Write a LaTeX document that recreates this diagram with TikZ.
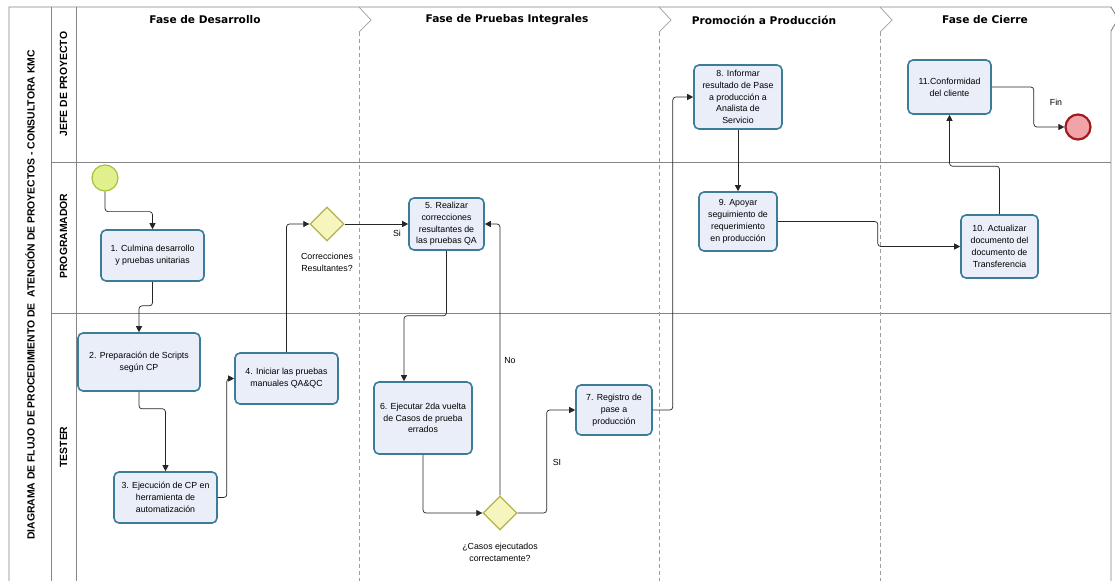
\documentclass[tikz,border=0pt]{standalone}
\usepackage{fontspec}
\setmainfont{Liberation Sans}
\newfontfamily\headfont{DejaVu Sans}
\usetikzlibrary{arrows.meta,shapes.geometric}
\definecolor{boxfill}{HTML}{E9EEF8}
\definecolor{boxborder}{HTML}{3C7C99}
\definecolor{gwfill}{HTML}{F7F5BE}
\definecolor{gwborder}{HTML}{B3B34E}
\definecolor{stfill}{HTML}{E0F08C}
\definecolor{stborder}{HTML}{A4C23C}
\definecolor{enfill}{HTML}{F0A4A8}
\definecolor{enborder}{HTML}{A31A1E}
\definecolor{framec}{HTML}{858585}
\tikzset{
  task/.style={draw=boxborder, line width=1.6pt, fill=boxfill, rounded corners=5pt,
    align=center, inner sep=1pt, font=\fontsize{8.8}{11.8}\selectfont},
  gateway/.style={diamond, draw=gwborder, line width=1.3pt, fill=gwfill,
    minimum width=34pt, minimum height=34pt, inner sep=0pt, aspect=1},
  startev/.style={circle, draw=stborder, line width=1.2pt, fill=stfill, minimum size=26pt, inner sep=0pt},
  endev/.style={circle, draw=enborder, line width=2.2pt, fill=enfill, minimum size=25pt, inner sep=0pt},
  flow/.style={draw=black!85, line width=0.7pt, rounded corners=3pt, -{Triangle[length=6pt,width=6pt]}},
  lbl/.style={align=center, font=\fontsize{8.8}{11.8}\selectfont, inner sep=0pt},
  frameline/.style={draw=framec, line width=0.9pt},
  phasesep/.style={draw=framec!80, line width=0.7pt, dash pattern=on 4pt off 3pt},
  chev/.style={draw=framec!80, line width=0.7pt},
  phasehead/.style={font=\headfont\fontsize{10.6}{13}\selectfont\bfseries, inner sep=0pt},
  lanehead/.style={font=\fontsize{10.4}{12}\selectfont\bfseries, inner sep=0pt, rotate=90},
}
\begin{document}
\begin{tikzpicture}[x=1pt,y=-1pt]
\useasboundingbox (0,0) rectangle (1115,581);
\fill[white] (0,0) rectangle (1115,581);
% frame
\draw[frameline] (9,581) -- (9,7) -- (1111,7) -- (1118,19) -- (1111,31) -- (1111,581);
\draw[frameline] (51,7) -- (51,581);
\draw[frameline] (76,7) -- (76,581);
\draw[frameline] (51,162) -- (1111,162);
\draw[frameline] (51,313) -- (1111,313);
% phase separators
\foreach \px in {359,659,880}{
  \draw[chev] (\px,7) -- (\px+12,20) -- (\px,32);
  \draw[phasesep] (\px,32) -- (\px,581);
}
% headers
\node[phasehead] (h1) at (205,20) {Fase de Desarrollo};
\node[phasehead] (h2) at (507,20) {Fase de Pruebas Integrales};
\node[phasehead] (h3) at (764,20) {Promoción a Producción};
\node[phasehead] (h4) at (985,20) {Fase de Cierre};
% pool and lanes
\node[lanehead] (pool) at (30,295) {DIAGRAMA DE FLUJO DE PROCEDIMIENTO DE\ \ ATENCIÓN DE PROYECTOS - CONSULTORA KMC};
\node[lanehead] (l1) at (63.5,84) {JEFE DE PROYECTO};
\node[lanehead] (l2) at (63.5,236) {PROGRAMADOR};
\node[lanehead] (l3) at (63.5,447) {TESTER};
% events and gateways
\node[startev] (start) at (105,178) {};
\node[endev] (end) at (1078,127) {};
\node[gateway] (d1) at (327,224) {};
\node[gateway] (d2) at (500,513) {};
% tasks
\node[task, minimum width=103pt, minimum height=51pt] (t1) at (152.5,255.5) {1. Culmina desarrollo\\y pruebas unitarias};
\node[task, minimum width=122pt, minimum height=58pt] (t2) at (139,362) {2. Preparación de Scripts\\según CP};
\node[task, minimum width=103pt, minimum height=51pt] (t3) at (165.5,497.5) {3. Ejecución de CP en\\herramienta de\\automatización};
\node[task, minimum width=103pt, minimum height=51pt] (t4) at (286.5,378.5) {4. Iniciar las pruebas\\manuales QA\&QC};
\node[task, minimum width=75pt, minimum height=52pt] (t5) at (446.5,224) {5. Realizar\\correcciones\\resultantes de\\las pruebas QA};
\node[task, minimum width=98pt, minimum height=72pt] (t6) at (423,418) {6. Ejecutar 2da vuelta\\de Casos de prueba\\errados};
\node[task, minimum width=76pt, minimum height=50pt] (t7) at (614,410) {7. Registro de\\pase a\\producción};
\node[task, minimum width=88pt, minimum height=64pt] (t8) at (738,97) {8. Informar\\resultado de Pase\\a producción a\\Analista de\\Servicio};
\node[task, minimum width=78pt, minimum height=59pt] (t9) at (738,221.5) {9. Apoyar\\seguimiento de\\requerimiento\\en producción};
\node[task, minimum width=77pt, minimum height=63pt] (t10) at (999.5,246.5) {10. Actualizar\\documento del\\documento de\\Transferencia};
\node[task, minimum width=83pt, minimum height=54pt] (t11) at (949.5,87) {11.Conformidad\\del cliente};
% labels
\node[lbl] (lg1) at (327,262) {Correcciones\\Resultantes?};
\node[lbl] (lg2) at (500,552) {¿Casos ejecutados\\correctamente?};
\node[lbl] (lsi1) at (397,233) {Si};
\node[lbl] (lno) at (510,361) {No};
\node[lbl] (lsi2) at (557,462) {SI};
\node[lbl] (lfin) at (1056,102) {Fin};
% flows
\draw[flow] (start.south) -- ++(0,20) -| (t1.north);
\draw[flow] (t1.south) -- ++(0,24) -| (t2.north);
\draw[flow] (t2.south) -- ++(0,17) -| (t3.north);
\draw[flow] (t3.east) -- ++(9,0) |- (t4.west);
\draw[flow] (t4.north) |- (d1.west);
\draw[flow] (d1.east) -- (t5.west);
\draw[flow] (t5.south) -- ++(0,65) -| ([xshift=-19pt]t6.north);
\draw[flow] (t6.south) |- (d2.west);
\draw[flow] (d2.north) |- (t5.east);
\draw[flow] (d2.east) -- ++(29,0) |- (t7.west);
\draw[flow] (t7.east) -- ++(20,0) |- (t8.west);
\draw[flow] (t8.south) -- (t9.north);
\draw[flow] (t9.east) -- ++(100,0) |- (t10.west);
\draw[flow] (t10.north) -- ++(0,-48) -| (t11.south);
\draw[flow] (t11.east) -- ++(42,0) |- (end.west);
\end{tikzpicture}
\end{document}
